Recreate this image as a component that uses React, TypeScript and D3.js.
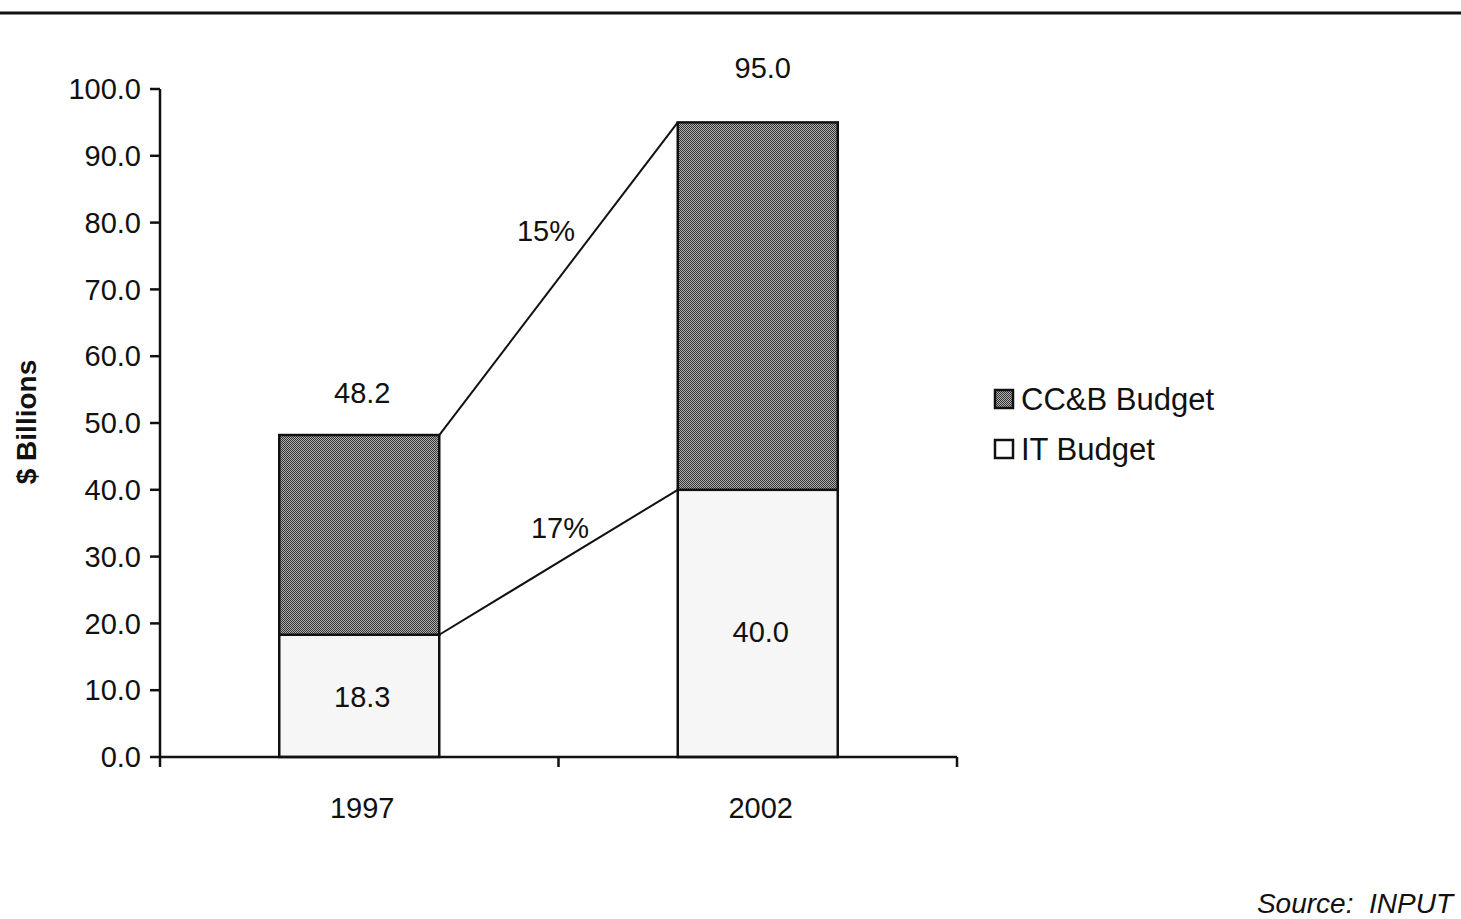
import React from "react";
import * as d3 from "d3";

const categories = ["1997", "2002"];
const itBudget = [18.3, 40.0];
const ccbBudget = [29.9, 55.0];
const totals = [48.2, 95.0];
const growthLabels = ["15%", "17%"];
const yTicks = [0, 10, 20, 30, 40, 50, 60, 70, 80, 90, 100];
const legendItems = ["CC&B Budget", "IT Budget"];

const W = 1461;
const H = 919;
const FONT = "'Liberation Sans', Arial, Helvetica, sans-serif";

export default function App() {
  const y = d3.scaleLinear().domain([0, 100]).range([757, 89]);
  const xAxis = d3.scaleBand().domain(categories).range([160, 957]).paddingInner(0).paddingOuter(0);
  const bw = 160;
  const cx = (c: string) => (xAxis(c) as number) + xAxis.bandwidth() / 2;
  const left = (c: string) => cx(c) - bw / 2;
  const right = (c: string) => cx(c) + bw / 2;

  const stackTop = categories.map((_, i) => itBudget[i] + ccbBudget[i]);
  const totalOffset = [42, 55];
  const innerOffset = [1, 8];
  const labelShift = [3, 5];

  return (
    <svg width={W} height={H} style={{ position: "absolute", left: 0, top: 0, background: "#fff" }} fontFamily={FONT}>
      <defs>
        <pattern id="checker" width="2" height="2" patternUnits="userSpaceOnUse">
          <rect width="2" height="2" fill="#b0b0b0" />
          <rect width="1" height="1" fill="#333" />
          <rect x="1" y="1" width="1" height="1" fill="#333" />
        </pattern>
      </defs>
      <rect width={W} height={H} fill="#fff" />
      <line x1={0} x2={W} y1={13} y2={13} stroke="#111" strokeWidth={3} />

      {/* bars */}
      {categories.map((c, i) => (
        <g key={c}>
          <rect x={left(c)} y={y(itBudget[i])} width={bw} height={y(0) - y(itBudget[i])} fill="#f6f6f6" stroke="#111" strokeWidth={2.5} />
          <rect x={left(c)} y={y(stackTop[i])} width={bw} height={y(itBudget[i]) - y(stackTop[i])} fill="url(#checker)" stroke="#111" strokeWidth={2.5} />
        </g>
      ))}

      {/* connector lines */}
      <line x1={right(categories[0])} y1={y(stackTop[0])} x2={left(categories[1])} y2={y(stackTop[1])} stroke="#111" strokeWidth={2} />
      <line x1={right(categories[0])} y1={y(itBudget[0])} x2={left(categories[1])} y2={y(itBudget[1])} stroke="#111" strokeWidth={2} />

      {/* axes */}
      <line x1={160} x2={160} y1={y(100)} y2={y(0)} stroke="#111" strokeWidth={2.5} />
      {yTicks.map((t) => (
        <g key={t}>
          <line x1={150} x2={160} y1={y(t)} y2={y(t)} stroke="#111" strokeWidth={2.5} />
          <text x={141} y={y(t)} dy="0.35em" textAnchor="end" fontSize={29} fill="#111">{t.toFixed(1)}</text>
        </g>
      ))}
      <line x1={160} x2={957} y1={y(0)} y2={y(0)} stroke="#111" strokeWidth={2.5} />
      {[160, 558.5, 957].map((x) => (
        <line key={x} x1={x} x2={x} y1={y(0)} y2={y(0) + 10} stroke="#111" strokeWidth={2.5} />
      ))}
      {categories.map((c) => (
        <text key={c} x={cx(c) + 3} y={808} dy="0.35em" textAnchor="middle" fontSize={29} fill="#111">{c}</text>
      ))}

      {/* value labels */}
      {categories.map((c, i) => (
        <g key={c + "v"}>
          <text x={cx(c) + labelShift[i]} y={y(totals[i]) - totalOffset[i]} dy="0.35em" textAnchor="middle" fontSize={29} fill="#111">{totals[i].toFixed(1)}</text>
          <text x={cx(c) + 3} y={y(itBudget[i] / 2) + innerOffset[i]} dy="0.35em" textAnchor="middle" fontSize={29} fill="#111">{itBudget[i].toFixed(1)}</text>
        </g>
      ))}
      <text x={546} y={231} dy="0.35em" textAnchor="middle" fontSize={29} fill="#111">{growthLabels[0]}</text>
      <text x={560} y={528} dy="0.35em" textAnchor="middle" fontSize={29} fill="#111">{growthLabels[1]}</text>

      {/* y title */}
      <text transform="translate(26,422) rotate(-90)" textAnchor="middle" dy="0.35em" fontSize={28} fontWeight="bold" fill="#111">$ Billions</text>

      {/* legend */}
      {legendItems.map((l, i) => (
        <g key={l}>
          <rect x={995} y={390 + i * 50} width={18} height={18} fill={i === 0 ? "url(#checker)" : "#fff"} stroke="#111" strokeWidth={2.5} />
          <text x={1021} y={399 + i * 50} dy="0.35em" fontSize={31} fill="#111">{l}</text>
        </g>
      ))}

      <text x={1453} y={913} textAnchor="end" fontSize={28} fontStyle="italic" fill="#111" style={{ whiteSpace: "pre" }}>Source:  INPUT</text>
    </svg>
  );
}
